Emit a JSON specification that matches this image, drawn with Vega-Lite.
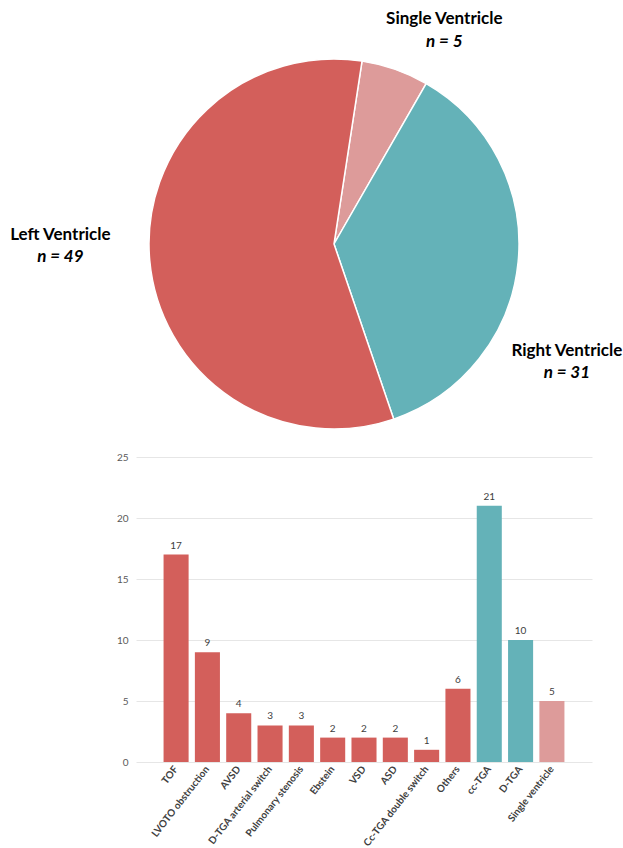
{
  "$schema": "https://vega.github.io/schema/vega-lite/v6.json",
  "padding": {"left": 9, "top": 10, "right": 0, "bottom": 0},
  "background": "white",
  "spacing": 30,
  "bounds": "flush",
  "config": {"view": {"stroke": null}, "font": "Lato"},
  "datasets": {
    "pie": [
      {"ventricle": "Single Ventricle", "n": 5, "ord": 1, "nlabel": "n = 5"},
      {"ventricle": "Right Ventricle", "n": 31, "ord": 2, "nlabel": "n = 31"},
      {"ventricle": "Left Ventricle", "n": 49, "ord": 3, "nlabel": "n = 49"}
    ],
    "bars": [
      {"lesion": "TOF", "count": 17, "ventricle": "Left Ventricle"},
      {"lesion": "LVOTO obstruction", "count": 9, "ventricle": "Left Ventricle"},
      {"lesion": "AVSD", "count": 4, "ventricle": "Left Ventricle"},
      {"lesion": "D-TGA arterial switch", "count": 3, "ventricle": "Left Ventricle"},
      {"lesion": "Pulmonary stenosis", "count": 3, "ventricle": "Left Ventricle"},
      {"lesion": "Ebstein", "count": 2, "ventricle": "Left Ventricle"},
      {"lesion": "VSD", "count": 2, "ventricle": "Left Ventricle"},
      {"lesion": "ASD", "count": 2, "ventricle": "Left Ventricle"},
      {"lesion": "Cc-TGA double switch", "count": 1, "ventricle": "Left Ventricle"},
      {"lesion": "Others", "count": 6, "ventricle": "Left Ventricle"},
      {"lesion": "cc-TGA", "count": 21, "ventricle": "Right Ventricle"},
      {"lesion": "D-TGA", "count": 10, "ventricle": "Right Ventricle"},
      {"lesion": "Single ventricle", "count": 5, "ventricle": "Single Ventricle"}
    ]
  },
  "vconcat": [
    {
      "width": 396,
      "height": 366,
      "data": {"name": "pie"},
      "encoding": {
        "theta": {"field": "n", "type": "quantitative", "stack": true, "scale": {"range": [0.152, 6.4352]}},
        "order": {"field": "ord", "type": "quantitative"}
      },
      "layer": [
        {
          "mark": {"type": "arc", "outerRadius": 185, "stroke": "white", "strokeWidth": 1.5},
          "encoding": {
            "color": {"field": "ventricle", "type": "nominal", "legend": null,
              "scale": {"domain": ["Left Ventricle", "Right Ventricle", "Single Ventricle"], "range": ["#D35F5B", "#64B2B8", "#DD9B9A"]}}
          }
        },
        {
          "mark": {"type": "text", "radius": 240, "dx": 31, "dy": 2, "fontWeight": "bold", "fontSize": 17, "color": "black"},
          "encoding": {"text": {"condition": {"test": "datum.ventricle === 'Single Ventricle'", "field": "ventricle"}, "value": ""}}
        },
        {
          "mark": {"type": "text", "radius": 240, "dx": 31, "dy": 25, "fontWeight": "bold", "fontStyle": "italic", "fontSize": 17, "color": "black"},
          "encoding": {"text": {"condition": {"test": "datum.ventricle === 'Single Ventricle'", "field": "nlabel"}, "value": ""}}
        },
        {
          "mark": {"type": "text", "radius": 240, "dx": -6, "dy": 84, "fontWeight": "bold", "fontSize": 17, "color": "black"},
          "encoding": {"text": {"condition": {"test": "datum.ventricle === 'Right Ventricle'", "field": "ventricle"}, "value": ""}}
        },
        {
          "mark": {"type": "text", "radius": 240, "dx": -6, "dy": 106, "fontWeight": "bold", "fontStyle": "italic", "fontSize": 17, "color": "black"},
          "encoding": {"text": {"condition": {"test": "datum.ventricle === 'Right Ventricle'", "field": "nlabel"}, "value": ""}}
        },
        {
          "mark": {"type": "text", "radius": 100, "dx": -174, "dy": -18, "fontWeight": "bold", "fontSize": 17, "color": "black"},
          "encoding": {"text": {"condition": {"test": "datum.ventricle === 'Left Ventricle'", "field": "ventricle"}, "value": ""}}
        },
        {
          "mark": {"type": "text", "radius": 100, "dx": -174, "dy": 4, "fontWeight": "bold", "fontStyle": "italic", "fontSize": 17, "color": "black"},
          "encoding": {"text": {"condition": {"test": "datum.ventricle === 'Left Ventricle'", "field": "nlabel"}, "value": ""}}
        }
      ]
    },
    {
      "width": 456,
      "height": 305,
      "data": {"name": "bars"},
      "encoding": {
        "x": {"field": "lesion", "type": "nominal", "sort": null, "title": null,
          "scale": {"paddingInner": 0.2, "paddingOuter": 0.88},
          "axis": {"labelAngle": -52, "domain": false, "ticks": false, "labelPadding": 5, "labelFontSize": 10, "labelFontWeight": "bold", "labelColor": "#404040", "labelFont": "Lato"}},
        "y": {"field": "count", "type": "quantitative", "title": null,
          "scale": {"domain": [0, 25]},
          "axis": {"values": [0, 5, 10, 15, 20, 25], "domain": false, "ticks": false, "labelPadding": 8, "labelFontSize": 10, "labelColor": "#595959", "gridColor": "#E6E6E6", "gridWidth": 1}}
      },
      "layer": [
        {
          "mark": {"type": "bar"},
          "encoding": {
            "color": {"field": "ventricle", "type": "nominal", "legend": null,
              "scale": {"domain": ["Left Ventricle", "Right Ventricle", "Single Ventricle"], "range": ["#D35F5B", "#64B2B8", "#DD9B9A"]}}
          }
        },
        {
          "mark": {"type": "text", "baseline": "bottom", "dy": -4, "fontSize": 10, "color": "#404040"},
          "encoding": {"text": {"field": "count", "type": "quantitative"}}
        }
      ]
    }
  ]
}
